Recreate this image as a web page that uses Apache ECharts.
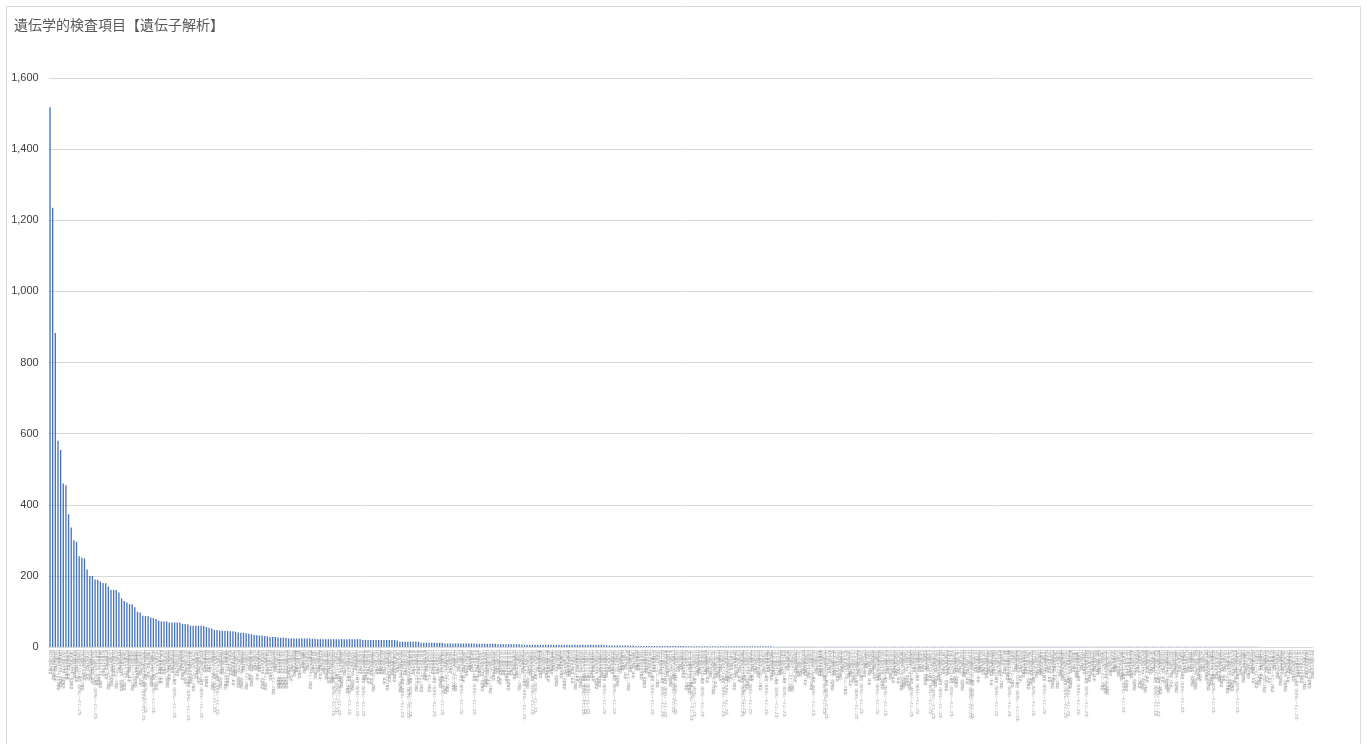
<!DOCTYPE html>
<html lang="ja">
<head>
<meta charset="utf-8">
<title>遺伝学的検査項目【遺伝子解析】</title>
<script src="https://cdn.jsdelivr.net/npm/echarts@6/dist/echarts.min.js"></script>
<style>
  html, body { margin: 0; padding: 0; background: #ffffff; }
  #chart { width: 1368px; height: 744px; }
</style>
</head>
<body>
<div id="chart"></div>
<script>
// Chart title
const chartTitle = '遺伝学的検査項目【遺伝子解析】';

// Test items (gene targets), sorted by count, descending
const genes = [
  'BRCA1','BRCA2','TP53','PTEN','CDH1','STK11','PALB2','ATM','CHEK2','MLH1',
  'MSH2','MSH6','PMS2','EPCAM','APC','MUTYH','SMAD4','BMPR1A','RET','VHL',
  'NF1','NF2','TSC1','TSC2','RB1','WT1','MEN1','CDKN2A','CDK4','BAP1',
  'SDHB','SDHC','SDHD','SDHA','SDHAF2','TMEM127','MAX','FH','FLCN','MET',
  'POLE','POLD1','NTHL1','GREM1','AXIN2','BLM','BRIP1','RAD51C','RAD51D','NBN',
  'BARD1','DICER1','SMARCB1','SMARCA4','LZTR1','SUFU','PTCH1','HOXB13','EGFR','KRAS',
  'NRAS','BRAF','ALK','ROS1','ERBB2','PIK3CA','IDH1','IDH2','KIT','PDGFRA',
  'FLT3','NPM1','CEBPA','JAK2','CALR','MPL','ABL1','BCR','PML','RARA',
  'RUNX1','CBFB','MYH11','KMT2A','DNMT3A','TET2','ASXL1','SF3B1','SRSF2','U2AF1',
  'EZH2','CFTR','HBB','HBA1','HBA2','F8','F9','VWF','DMD','SMN1',
  'SMN2','FMR1','HTT','ATXN1','ATXN2','ATXN3','CACNA1A','ATXN7','TBP','DMPK',
  'CNBP','PABPN1','C9orf72','SOD1','TARDBP','FUS','SCN1A','SCN2A','SCN8A','KCNQ2',
  'KCNQ3','STXBP1','CDKL5','MECP2','FOXG1','UBE3A','SNRPN','GNAS','PHOX2B','SLC2A1',
  'PCDH19','CHD2','SYNGAP1','GRIN2A','GRIN2B','DEPDC5','KCNH2','KCNQ1','SCN5A','KCNE1',
  'KCNE2','KCNJ2','RYR2','CASQ2','CALM1','CALM2','CALM3','TRDN','MYH7','MYBPC3',
  'TNNT2','TNNI3','TPM1','ACTC1','MYL2','MYL3','LMNA','TTN','DSP','PKP2',
  'DSG2','DSC2','JUP','TMEM43','FBN1','TGFBR1','TGFBR2','SMAD3','TGFB2','ACTA2',
  'COL3A1','COL1A1','COL1A2','COL5A1','COL5A2','GLA','LDLR','APOB','PCSK9','LDLRAP1',
  'ABCA1','LPL','APOE','GBA','HEXA','HEXB','ASAH1','NPC1','NPC2','SMPD1',
  'GAA','IDUA','IDS','SGSH','NAGLU','HGSNAT','GNS','GALNS','GLB1','ARSB',
  'GUSB','CLN3','PPT1','TPP1','CLN5','CLN6','MFSD8','CLN8','CTSD','GALC',
  'ARSA','PSAP','ABCD1','PEX1','PEX6','PEX26','PAH','PTS','QDPR','GCH1',
  'TH','DDC','SPR','MMUT','MMAA','MMAB','MMACHC','PCCA','PCCB','IVD',
  'MCCC1','MCCC2','HMGCL','BTD','HLCS','OTC','CPS1','ASS1','ASL','ARG1',
  'NAGS','SLC25A13','SLC25A15','ACADM','ACADVL','ACADS','HADHA','HADHB','CPT1A','CPT2',
  'SLC22A5','SLC25A20','ETFA','ETFB','ETFDH','G6PC','SLC37A4','AGL','GBE1','PYGL',
  'PYGM','PHKA2','GYS2','ALDOB','FBP1','GALT','GALK1','GALE','OCRL','CLCN5',
  'PKD1','PKD2','PKHD1','COL4A3','COL4A4','COL4A5','NPHS1','NPHS2','INF2','TRPC6',
  'ACTN4','CUBN','SLC12A3','SLC12A1','KCNJ1','CLCNKB','BSND','CASR','ATP7A','ATP7B',
  'HFE','HJV','TFR2','SLC40A1','HAMP','UGT1A1','ABCB11','ATP8B1','ABCB4','JAG1',
  'NOTCH2','SERPINA1','CYP21A2','CYP11B1','CYP17A1','HSD3B2','STAR','CYP11A1','AR','SRD5A2',
  'NR5A1','SRY','SOX9','NR0B1','ANOS1','FGFR1','FGFR2','FGFR3','FGFR4','PROKR2',
  'PROK2','CHD7','SOX10','PAX3','MITF','EDNRB','EDN3','SOX2','PAX6','OTX2',
  'RAX','GJB2','GJB6','SLC26A4','OTOF','MYO7A','MYO15A','CDH23','PCDH15','USH2A',
  'USH1C','CLRN1','TMC1','TECTA','POU3F4','MT-RNR1','MT-TL1','MT-ND5','MT-ATP6','POLG',
  'TWNK','OPA1','RRM2B','TYMP','SURF1','NDUFS4','PDHA1','ABCC8','KCNJ11','GCK',
  'HNF1A','HNF4A','HNF1B','INS','PDX1','NEUROD1','WFS1','INSR','PPARG','LMNB2',
  'AGPAT2','BSCL2','CAV1','CAVIN1','LEP','LEPR','MC4R','POMC','PCSK1','SIM1',
  'GH1','GHR','GHRHR','POU1F1','PROP1','HESX1','LHX3','LHX4','TSHR','TPO',
  'TG','DUOX2','DUOXA2','SLC5A5','PAX8','NKX2-1','FOXE1','THRB','SECISBP2','SLC16A2',
  'PTPN11','SOS1','RAF1','RIT1','SHOC2','CBL','MAP2K1','MAP2K2','HRAS','SPRED1',
  'NSD1','EED','KMT2D','KDM6A','NIPBL','SMC1A','SMC3','RAD21','HDAC8','CREBBP',
  'EP300','ARID1B','ARID1A','SMARCE1','SOX11','ANKRD11','FBN2','ELN','LIMK1','GTF2I',
  'TBX1','TBX5','NKX2-5','GATA4','ZEB2','TCF4','EHMT1','SETBP1','ARX','DCX',
  'PAFAH1B1','TUBA1A','RELN','FLNA','COL4A1','COL4A2','NOTCH3','HTRA1','CBS','MTHFR',
  'F5','F2','SERPINC1','PROC','PROS1','FGA','FGB','FGG','ITGA2B','ITGB3',
  'GP1BA','GP1BB','GP9','MYH9','WAS','RUNX2','SLC26A2','COMP','MATN3','COL2A1',
  'COL10A1','COL11A1','COL11A2','ALPL','PHEX','FGF23','DMP1'
];

// Test methods used to name each item
const methods = [
  '遺伝子検査',
  '遺伝子変異解析',
  '遺伝子解析（血液）',
  '遺伝子シークエンス解析',
  '遺伝子欠失・重複解析',
  '遺伝子解析',
  '遺伝子パネル検査（次世代シークエンス法）'
];

// Number of tests per item
const counts = [
  1518, 1235, 883, 580, 554, 460, 455, 373, 336, 300,
  296, 255, 251, 249, 218, 200, 200, 190, 189, 184,
  180, 179, 170, 160, 160, 160, 153, 137, 129, 125,
  120, 120, 112, 99, 97, 88, 87, 87, 83, 81,
  79, 74, 72, 72, 72, 69, 69, 69, 69, 69,
  65, 65, 64, 60, 60, 60, 60, 60, 59, 56,
  54, 52, 48, 48, 46, 46, 45, 45, 44, 44,
  43, 41, 40, 40, 39, 37, 36, 34, 33, 32,
  32, 31, 30, 28, 28, 28, 27, 26, 26, 25,
  24, 24, 24, 24, 24, 24, 24, 24, 24, 23,
  23, 22, 22, 22, 22, 22, 22, 22, 22, 22,
  22, 22, 22, 22, 22, 22, 22, 22, 20, 20,
  20, 20, 20, 20, 20, 20, 20, 20, 20, 20,
  20, 18, 15, 15, 15, 15, 15, 15, 15, 15,
  12, 12, 12, 12, 12, 12, 12, 12, 12, 10,
  10, 10, 10, 10, 10, 10, 10, 10, 10, 10,
  10, 9, 9, 9, 9, 9, 9, 9, 9, 8,
  8, 8, 8, 8, 8, 8, 8, 8, 7, 6,
  6, 6, 6, 6, 6, 6, 6, 6, 6, 6,
  6, 6, 6, 6, 6, 6, 6, 6, 6, 6,
  6, 6, 6, 6, 6, 6, 6, 6, 6, 6,
  5, 4, 4, 4, 4, 4, 4, 4, 4, 4,
  4, 3, 3, 3, 3, 3, 3, 3, 3, 3,
  3, 3, 3, 3, 3, 3, 3, 3, 3, 3,
  3, 2, 2, 2, 2, 2, 2, 2, 2, 2,
  2, 2, 2, 2, 2, 2, 2, 2, 2, 2,
  2, 2, 2, 2, 2, 2, 2, 2, 2, 2,
  2, 2, 2, 1, 1, 1, 1, 1, 1, 1,
  1, 1, 1, 1, 1, 1, 1, 1, 1, 1,
  1, 1, 1, 1, 1, 1, 1, 1, 1, 1,
  1, 1, 1, 1, 1, 1, 1, 1, 1, 1,
  1, 1, 1, 1, 1, 1, 1, 1, 1, 1,
  1, 1, 1, 1, 1, 1, 1, 1, 1, 1,
  1, 1, 1, 1, 1, 1, 1, 1, 1, 1,
  1, 1, 1, 1, 1, 1, 1, 1, 1, 1,
  1, 1, 1, 1, 1, 1, 1, 1, 1, 1,
  1, 1, 1, 1, 1, 1, 1, 1, 1, 1,
  1, 1, 1, 1, 1, 1, 1, 1, 1, 1,
  1, 1, 1, 1, 1, 1, 1, 1, 1, 1,
  1, 1, 1, 1, 1, 1, 1, 1, 1, 1,
  1, 1, 1, 1, 1, 1, 1, 1, 1, 1,
  1, 1, 1, 1, 1, 1, 1, 1, 1, 1,
  1, 1, 1, 1, 1, 1, 1, 1, 1, 1,
  1, 1, 1, 1, 1, 1, 1, 1, 1, 1,
  1, 1, 1, 1, 1, 1, 1, 1, 1, 1,
  1, 1, 1, 1, 1, 1, 1
];

// Value axis ticks
const yTicks = [0, 200, 400, 600, 800, 1000, 1200, 1400, 1600];

// Item names: gene + test method (method picked from the gene symbol's letters)
const categories = genes.map(g => {
  let s = 0;
  for (const ch of g) s += ch.charCodeAt(0);
  return g + methods[s % methods.length];
});

const chart = echarts.init(document.getElementById('chart'), null, { renderer: 'canvas' });

chart.setOption({
  backgroundColor: '#ffffff',
  animation: false,
  title: {
    text: chartTitle,
    left: 9,
    top: 13,
    textStyle: {
      fontFamily: '"Noto Sans CJK JP", sans-serif',
      fontSize: 14,
      fontWeight: 'normal',
      color: '#595959'
    }
  },
  graphic: [{
    type: 'rect',
    silent: true,
    shape: { x: 6.5, y: 6.5, width: 1354, height: 780 },
    style: { fill: 'none', stroke: '#d9d9d9', lineWidth: 1 }
  }],
  grid: {
    left: 48.7,
    right: 55,
    top: 78,
    bottom: 97,
    containLabel: false
  },
  xAxis: {
    type: 'category',
    data: categories,
    axisLine: { show: true, lineStyle: { color: '#d9d9d9', width: 1 } },
    axisTick: { show: false },
    axisLabel: {
      interval: 0,
      rotate: -90,
      margin: 3,
      fontSize: 3,
      color: '#8c8c8c',
      fontFamily: '"Noto Sans CJK JP", sans-serif'
    },
    splitLine: { show: false }
  },
  yAxis: {
    type: 'value',
    min: yTicks[0],
    max: yTicks[yTicks.length - 1],
    interval: yTicks[1] - yTicks[0],
    axisLine: { show: false },
    axisTick: { show: false },
    axisLabel: {
      margin: 10,
      fontSize: 11,
      color: '#404040',
      fontFamily: '"Liberation Sans", Arial, sans-serif',
      formatter: v => v.toLocaleString('en-US')
    },
    splitLine: { lineStyle: { color: '#d9d9d9', width: 1 } }
  },
  series: [{
    type: 'bar',
    data: counts,
    barCategoryGap: '50%',
    itemStyle: { color: '#4472C4' },
    emphasis: { disabled: true }
  }]
});
</script>
</body>
</html>
